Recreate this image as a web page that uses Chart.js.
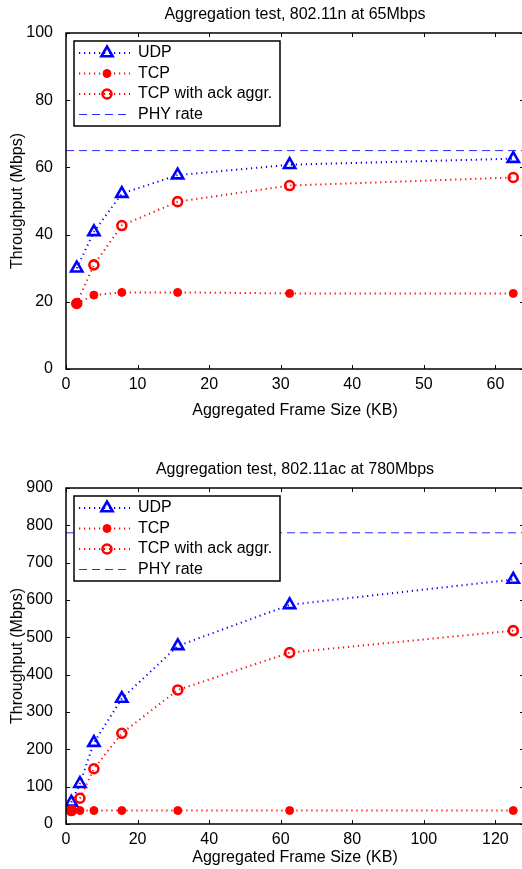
<!DOCTYPE html>
<html>
<head>
<meta charset="utf-8">
<title>Aggregation test</title>
<script src="https://cdn.jsdelivr.net/npm/chart.js@4"></script>
<style>
  html, body { margin: 0; padding: 0; background: #fff; overflow: hidden; }
  .panel { position: absolute; left: 0; width: 524px; }
  #panelN { top: 0; height: 435px; }
  #panelAc { top: 435px; height: 434px; }
</style>
</head>
<body>
<div class="panel" id="panelN"><canvas id="chartN"></canvas></div>
<div class="panel" id="panelAc"><canvas id="chartAc"></canvas></div>
<script>
// frame sizes in KB
const frameSizeN = [1.5, 3.9, 7.8, 15.6, 31.25, 62.5];
const frameSizeAc = [1.5, 3.9, 7.8, 15.6, 31.25, 62.5, 125];

// 802.11n throughput (Mbps)
const udpN = [30, 40.8, 52.2, 57.7, 60.8, 62.6];
const tcpN = [19.5, 22, 22.8, 22.8, 22.5, 22.5];
const tcpAckN = [19.5, 31, 42.7, 49.8, 54.6, 57];
const phyN = 65;

// 802.11ac throughput (Mbps)
const udpAc = [58, 108, 218, 336, 477, 587, 655];
const tcpAc = [36, 36, 36, 36, 36, 36, 36];
const tcpAckAc = [36, 69, 148, 243, 359, 459, 518];
const phyAc = 780;

const seriesLabels = ['UDP', 'TCP', 'TCP with ack aggr.', 'PHY rate'];

Chart.defaults.font.family = "'Liberation Sans', Arial, sans-serif";
Chart.defaults.font.size = 16;
Chart.defaults.color = '#000';

const toPoints = (xs, ys) => xs.map((x, i) => ({ x: x, y: ys[i] }));

// axes box with inward ticks on all four sides, then the legend box on top
const frameAndLegend = {
    id: 'frameAndLegend',
    afterDatasetsDraw(chart, args, opts) {
        const ctx = chart.ctx;
        const { left, top, right, bottom } = chart.chartArea;
        const xs = chart.scales.x, ys = chart.scales.y;
        ctx.save();
        ctx.strokeStyle = '#000';
        ctx.lineWidth = 1.5;
        ctx.strokeRect(left, top, right - left, bottom - top);
        ctx.lineWidth = 1;
        ctx.beginPath();
        xs.ticks.forEach(t => {
            const px = Math.round(xs.getPixelForValue(t.value)) + 0.5;
            ctx.moveTo(px, bottom); ctx.lineTo(px, bottom - 4);
            ctx.moveTo(px, top); ctx.lineTo(px, top + 4);
        });
        ys.ticks.forEach(t => {
            const py = Math.round(ys.getPixelForValue(t.value)) + 0.5;
            ctx.moveTo(left, py); ctx.lineTo(left + 4, py);
            ctx.moveTo(right, py); ctx.lineTo(right - 4, py);
        });
        ctx.stroke();

        // legend
        const bx = opts.x, by = opts.y;
        ctx.fillStyle = '#fff';
        ctx.fillRect(bx, by, opts.w, opts.h);
        ctx.strokeStyle = '#000';
        ctx.lineWidth = 1.5;
        ctx.strokeRect(bx, by, opts.w, opts.h);
        chart.data.datasets.forEach((ds, i) => {
            const yy = by + opts.rows[i];
            ctx.save();
            ctx.setLineDash(ds.borderDash || []);
            ctx.strokeStyle = ds.borderColor;
            ctx.lineWidth = ds.borderWidth;
            ctx.beginPath();
            ctx.moveTo(opts.lineX0, yy);
            ctx.lineTo(opts.lineX1, yy);
            ctx.stroke();
            ctx.restore();
            if (ds.pointRadius > 0) {
                ctx.fillStyle = ds.pointBackgroundColor;
                ctx.strokeStyle = ds.pointBorderColor;
                ctx.lineWidth = ds.pointBorderWidth;
                Chart.helpers.drawPoint(ctx, {
                    pointStyle: ds.pointStyle,
                    radius: ds.pointRadius,
                    borderWidth: ds.pointBorderWidth,
                    rotation: 0
                }, opts.markX, yy);
            }
            ctx.fillStyle = '#000';
            ctx.font = "16px 'Liberation Sans', Arial, sans-serif";
            ctx.textBaseline = 'middle';
            ctx.textAlign = 'left';
            ctx.fillText(ds.label, opts.textX, yy);
        });
        ctx.restore();
    }
};

function makeChart(id, cfg) {
    const datasets = [
        {
            label: seriesLabels[0],
            data: toPoints(cfg.xs, cfg.udp),
            borderColor: '#0000ff', borderWidth: 2, borderDash: [1.2, 3.8],
            pointStyle: 'triangle', pointRadius: 6.5, pointBorderWidth: 2.6,
            pointBackgroundColor: 'rgba(0,0,0,0)', pointBorderColor: '#0000ff',
            order: 3
        },
        {
            label: seriesLabels[1],
            data: toPoints(cfg.xs, cfg.tcp),
            borderColor: '#ff0000', borderWidth: 2, borderDash: [1.2, 3.8],
            pointStyle: 'circle', pointRadius: 4, pointBorderWidth: 1,
            pointBackgroundColor: '#ff0000', pointBorderColor: '#ff0000',
            order: 2
        },
        {
            label: seriesLabels[2],
            data: toPoints(cfg.xs, cfg.ack),
            borderColor: '#ff0000', borderWidth: 2, borderDash: [1.2, 3.8],
            pointStyle: 'circle', pointRadius: 4.5, pointBorderWidth: 2.6,
            pointBackgroundColor: 'rgba(0,0,0,0)', pointBorderColor: '#ff0000',
            order: 1
        },
        {
            label: seriesLabels[3],
            data: [{ x: 0, y: cfg.phy }, { x: cfg.xMax, y: cfg.phy }],
            borderColor: '#2b2bff', borderWidth: 1, borderDash: [8, 5],
            pointRadius: 0,
            order: 0
        }
    ];

    return new Chart(document.getElementById(id), {
        type: 'line',
        data: { datasets: datasets },
        options: {
            responsive: true,
            maintainAspectRatio: false,
            animation: false,
            events: [],
            layout: { padding: 0, autoPadding: false },
            elements: { line: { tension: 0, fill: false } },
            scales: {
                x: {
                    type: 'linear', min: 0, max: cfg.xMax,
                    afterFit: s => {
                        s.height = cfg.xAxisH;
                        s.paddingLeft = 0;
                        s.paddingRight = 0;
                    },
                    grid: { display: false }, border: { display: false },
                    ticks: {
                        stepSize: cfg.xStep, includeBounds: false, padding: 0,
                        maxRotation: 0, autoSkip: false,
                        font: { size: 16, lineHeight: 1 }
                    },
                    title: {
                        display: true, text: 'Aggregated Frame Size (KB)',
                        font: { size: 16 }, padding: { top: 0, bottom: cfg.xTitlePad }
                    }
                },
                y: {
                    min: 0, max: cfg.yMax,
                    afterFit: s => {
                        s.width = 66;
                        s.paddingTop = 0;
                        s.paddingBottom = 0;
                    },
                    grid: { display: false }, border: { display: false },
                    ticks: { stepSize: cfg.yStep, padding: 5, font: { size: 16 } },
                    title: {
                        display: true, text: 'Throughput (Mbps)',
                        font: { size: 16 }, padding: { top: 7.9, bottom: 0 }
                    }
                }
            },
            plugins: {
                legend: { display: false },
                tooltip: { enabled: false },
                title: {
                    display: true, text: cfg.title, fullSize: false,
                    font: { size: 16, weight: 'normal' },
                    padding: cfg.titlePad
                },
                frameAndLegend: {
                    x: 74, y: cfg.legendY, w: 206, h: 85,
                    rows: [12, 32.5, 53, 73.5],
                    lineX0: 79, lineX1: 130, markX: 107, textX: 138
                }
            }
        },
        plugins: [frameAndLegend]
    });
}

makeChart('chartN', {
    title: 'Aggregation test, 802.11n at 65Mbps',
    xs: frameSizeN, udp: udpN, tcp: tcpN, ack: tcpAckN, phy: phyN,
    xMax: 64, xStep: 10, yMax: 100, yStep: 20,
    xAxisH: 66, xTitlePad: 14.4,
    titlePad: { top: 5.4, bottom: 8.4 },
    legendY: 41
});

makeChart('chartAc', {
    title: 'Aggregation test, 802.11ac at 780Mbps',
    xs: frameSizeAc, udp: udpAc, tcp: tcpAc, ack: tcpAckAc, phy: phyAc,
    xMax: 128, xStep: 20, yMax: 900, yStep: 100,
    xAxisH: 45, xTitlePad: 1.4,
    titlePad: { top: 25.4, bottom: 8.4 },
    legendY: 61
});
</script>
</body>
</html>
